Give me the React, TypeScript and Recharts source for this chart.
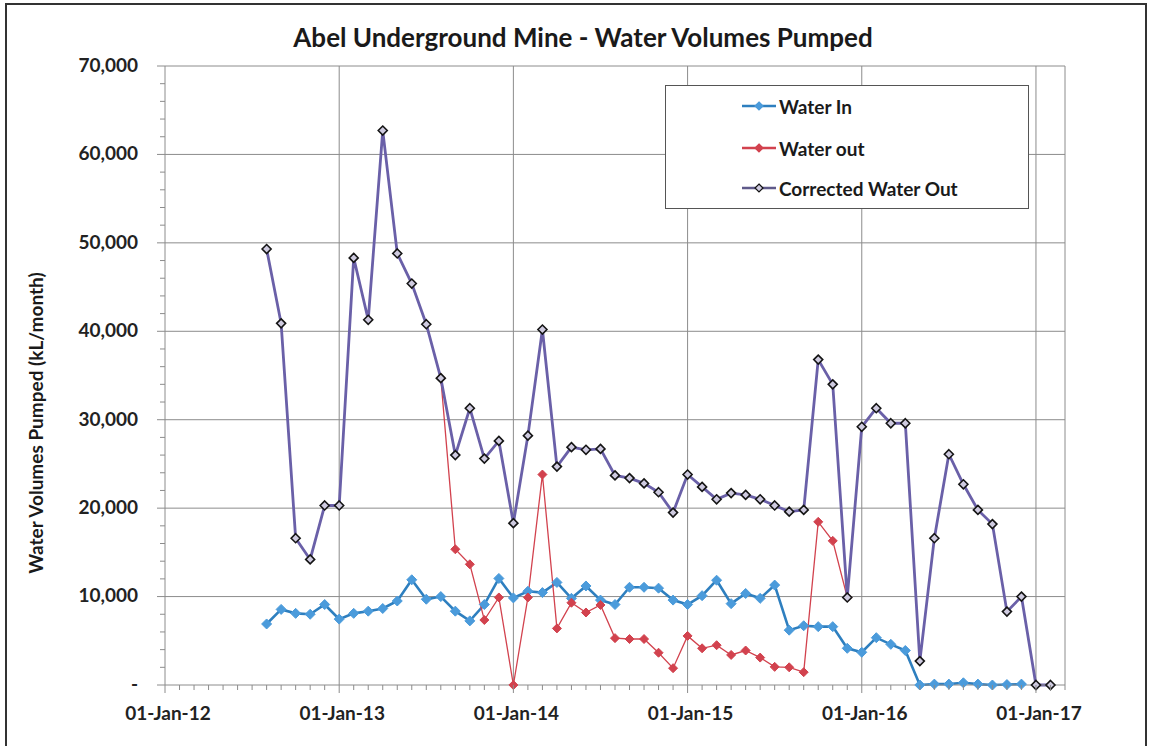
import React from 'react'
import { LineChart, Line, XAxis, YAxis, ReferenceLine } from 'recharts'

const FONT = 'Lato, "Liberation Sans", sans-serif'

// monthly readings, Aug-12 .. Feb-17
const months = [
  'Aug-12', 'Sep-12', 'Oct-12', 'Nov-12', 'Dec-12',
  'Jan-13', 'Feb-13', 'Mar-13', 'Apr-13', 'May-13', 'Jun-13', 'Jul-13', 'Aug-13', 'Sep-13', 'Oct-13', 'Nov-13', 'Dec-13',
  'Jan-14', 'Feb-14', 'Mar-14', 'Apr-14', 'May-14', 'Jun-14', 'Jul-14', 'Aug-14', 'Sep-14', 'Oct-14', 'Nov-14', 'Dec-14',
  'Jan-15', 'Feb-15', 'Mar-15', 'Apr-15', 'May-15', 'Jun-15', 'Jul-15', 'Aug-15', 'Sep-15', 'Oct-15', 'Nov-15', 'Dec-15',
  'Jan-16', 'Feb-16', 'Mar-16', 'Apr-16', 'May-16', 'Jun-16', 'Jul-16', 'Aug-16', 'Sep-16', 'Oct-16', 'Nov-16', 'Dec-16',
  'Jan-17', 'Feb-17',
]

const waterIn = [
  6900, 8550, 8100, 8000, 9100,
  7450, 8100, 8350, 8650, 9500, 11900, 9700, 10000, 8350, 7250, 9100, 12050,
  9850, 10600, 10450, 11600, 9800, 11200, 9600, 9100, 11050, 11050, 10950, 9600,
  9100, 10100, 11850, 9200, 10350, 9800, 11300, 6200, 6700, 6600, 6600, 4150,
  3700, 5350, 4600, 3900, 0, 100, 100, 250, 100, 0, 50, 100,
  null, null,
]

const waterOut = [
  null, null, null, null, null,
  null, null, null, null, null, null, null, 34700, 15350, 13650, 7350, 9900,
  0, 9900, 23800, 6400, 9300, 8200, 9050, 5300, 5200, 5200, 3650, 1900,
  5550, 4150, 4500, 3400, 3900, 3100, 2050, 2000, 1450, 18450, 16300, 9900,
  null, null, null, null, null, null, null, null, null, null, null, null,
  null, null,
]

const correctedOut = [
  49300, 40900, 16600, 14200, 20300,
  20300, 48300, 41300, 62700, 48800, 45400, 40800, 34700, 26000, 31300, 25600, 27600,
  18300, 28200, 40200, 24700, 26900, 26600, 26700, 23700, 23400, 22800, 21800, 19500,
  23800, 22400, 21000, 21700, 21500, 21000, 20300, 19600, 19800, 36800, 34000, 9900,
  29200, 31300, 29600, 29600, 2700, 16600, 26100, 22700, 19800, 18200, 8300, 10000,
  0, 0,
]

const yearTicks = [0, 12, 24, 36, 48, 60]
const yearLabels = ['01-Jan-12', '01-Jan-13', '01-Jan-14', '01-Jan-15', '01-Jan-16', '01-Jan-17']
const yMajor = [0, 10000, 20000, 30000, 40000, 50000, 60000, 70000]
const yLabels = ['-', '10,000', '20,000', '30,000', '40,000', '50,000', '60,000', '70,000']

const MON = ['Jan', 'Feb', 'Mar', 'Apr', 'May', 'Jun', 'Jul', 'Aug', 'Sep', 'Oct', 'Nov', 'Dec']
const monthIndex = (s: string) => {
  const [mm, yy] = s.split('-')
  return MON.indexOf(mm) + (Number(yy) - 12) * 12
}

const rows = months.map((s, i) => ({
  m: monthIndex(s),
  waterIn: waterIn[i],
  waterOut: waterOut[i],
  corrected: correctedOut[i],
}))

const xTicks = Array.from({ length: 63 }, (_, i) => i)
const yTicks = Array.from({ length: 36 }, (_, i) => i * 2000)

const GRID = '#8c8c8c'

const XTick = ({ x, y, payload }: any) => {
  const i = yearTicks.indexOf(payload.value)
  return (
    <g>
      <line x1={x} x2={x} y1={y} y2={y + (i >= 0 ? 8 : 5)} stroke={GRID} />
      {i >= 0 && (
        <text x={x + 3} y={y + 30} textAnchor="middle" dominantBaseline="middle"
          fontFamily={FONT} fontWeight={700} fontSize={19} fill="#222">
          {yearLabels[i]}
        </text>
      )}
    </g>
  )
}

const YTick = ({ x, y, payload }: any) => {
  const i = yMajor.indexOf(payload.value)
  return (
    <g>
      <line x1={x} x2={x - (i >= 0 ? 8 : 5)} y1={y} y2={y} stroke={GRID} />
      {i >= 0 && (
        <text x={x - 27} y={y + 1} textAnchor="end" dominantBaseline="middle"
          fontFamily={FONT} fontWeight={700} fontSize={19} fill="#222">
          {yLabels[i]}
        </text>
      )}
    </g>
  )
}

const diamond = (fill: string, stroke: string, r: number, sw: number) => (props: any) => {
  const { cx, cy, index } = props
  if (cx == null || cy == null || props.value == null) return <g key={`e-${index}`} />
  return (
    <polygon key={`d-${index}`}
      points={`${cx},${cy - r} ${cx + r},${cy} ${cx},${cy + r} ${cx - r},${cy}`}
      fill={fill} stroke={stroke} strokeWidth={sw} />
  )
}

const IN_LINE = '#2E7FBF'
const IN_DOT = '#4B9BDB'
const OUT_RED = '#D2424E'
const CORR = '#6A60A8'

const legendItems = [
  { name: 'Water In', color: IN_LINE, fill: IN_DOT, stroke: IN_DOT, top: 20 },
  { name: 'Water out', color: OUT_RED, fill: OUT_RED, stroke: OUT_RED, top: 62 },
  { name: 'Corrected Water Out', color: '#5f5a8a', fill: '#cfcbe0', stroke: '#111', top: 102 },
]

export default function App() {
  return (
    <div style={{ position: 'absolute', left: 0, top: 0, width: 1150, height: 746, background: '#fff', overflow: 'hidden' }}>
      <div style={{ position: 'absolute', left: 5, top: 3, width: 1142, height: 745, border: '2px solid #333', boxSizing: 'border-box' }} />
      <LineChart width={1150} height={746} data={rows} margin={{ top: 66, right: 85, bottom: 0, left: 0 }}>
        <XAxis dataKey="m" type="number" domain={[0, 62]} ticks={xTicks} interval={0} height={61}
          tickSize={0} tickMargin={0} tickLine={false} axisLine={{ stroke: GRID }} tick={XTick} allowDataOverflow />
        <YAxis type="number" domain={[0, 70000]} ticks={yTicks} interval={0} width={165}
          tickSize={0} tickMargin={0} tickLine={false} axisLine={{ stroke: GRID }} tick={YTick} />
        {yMajor.slice(1).map((v) => (
          <ReferenceLine key={`h${v}`} y={v} stroke={GRID} strokeWidth={1} />
        ))}
        {yearTicks.slice(1).concat([62]).map((v) => (
          <ReferenceLine key={`v${v}`} x={v} stroke={GRID} strokeWidth={1} />
        ))}
        <Line dataKey="waterIn" stroke={IN_LINE} strokeWidth={2.6} isAnimationActive={false}
          dot={diamond(IN_DOT, IN_DOT, 5, 1)} activeDot={false} />
        <Line dataKey="waterOut" stroke={OUT_RED} strokeWidth={1.3} isAnimationActive={false}
          dot={diamond(OUT_RED, OUT_RED, 4.5, 1)} activeDot={false} />
        <Line dataKey="corrected" stroke={CORR} strokeWidth={2.8} isAnimationActive={false}
          dot={diamond('#cfcbe0', '#151515', 4.5, 1.6)} activeDot={false} />
      </LineChart>

      <div style={{ position: 'absolute', left: 583, top: 37, transform: 'translate(-50%, -50%)', whiteSpace: 'nowrap',
        fontFamily: FONT, fontWeight: 700, fontSize: 26, color: '#1a1a1a' }}>
        Abel Underground Mine - Water Volumes Pumped
      </div>

      <div style={{ position: 'absolute', left: 35, top: 423, transform: 'translate(-50%, -50%) rotate(-90deg)', whiteSpace: 'nowrap',
        fontFamily: FONT, fontWeight: 700, fontSize: 19, color: '#1a1a1a' }}>
        Water Volumes Pumped (kL/month)
      </div>

      <div style={{ position: 'absolute', left: 665, top: 85, width: 364, height: 124, border: '1.5px solid #555', boxSizing: 'border-box', background: '#fff' }}>
        {legendItems.map((it) => (
          <div key={it.name} style={{ position: 'absolute', left: 76, top: it.top - 10, height: 20, display: 'flex', alignItems: 'center' }}>
            <svg width={34} height={12} style={{ marginRight: 3 }}>
              <line x1={0} x2={34} y1={6} y2={6} stroke={it.color} strokeWidth={2.5} />
              <polygon points="17,2 21,6 17,10 13,6" fill={it.fill} stroke={it.stroke} strokeWidth={1.2} />
            </svg>
            <span style={{ fontFamily: FONT, fontWeight: 700, fontSize: 19, color: '#1a1a1a', whiteSpace: 'nowrap' }}>{it.name}</span>
          </div>
        ))}
      </div>
    </div>
  )
}
